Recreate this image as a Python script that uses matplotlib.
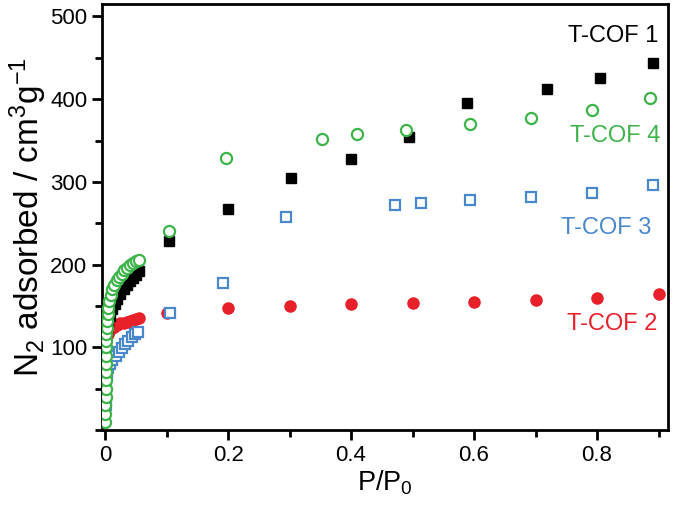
import matplotlib
matplotlib.use('Agg')
import matplotlib.pyplot as plt
from matplotlib.ticker import MultipleLocator

plt.rcParams['font.family'] = ['Liberation Sans', 'DejaVu Sans']
plt.rcParams['mathtext.default'] = 'regular'

# T-COF 1 (filled black squares)
p_cof1 = [0.003, 0.005, 0.008, 0.012, 0.016, 0.02, 0.025, 0.03, 0.035, 0.04,
          0.045, 0.05, 0.055,
          0.104, 0.2, 0.302, 0.4, 0.494, 0.589, 0.719, 0.805, 0.891]
v_cof1 = [120, 130, 138, 146, 152, 158, 164, 170, 175, 180,
          184, 188, 192,
          228, 267, 305, 328, 354, 395, 412, 426, 444]

# T-COF 4 (open green circles)
p_cof4 = [0.0005, 0.0005, 0.0006, 0.0007, 0.0008, 0.0009, 0.001, 0.0012,
          0.0014, 0.0016, 0.0018, 0.002, 0.0025, 0.003, 0.004, 0.005, 0.007,
          0.009, 0.012, 0.015, 0.019, 0.023, 0.027, 0.031, 0.035, 0.04,
          0.045, 0.05, 0.055,
          0.104, 0.197, 0.353, 0.41, 0.49, 0.594, 0.693, 0.792, 0.886]
v_cof4 = [10, 20, 30, 40, 50, 60, 70, 80,
          90, 100, 108, 116, 124, 132, 140, 148, 156,
          163, 170, 176, 181, 185, 189, 193, 196, 199,
          202, 204, 206,
          241, 329, 352, 358, 363, 370, 377, 387, 402]

# T-COF 3 (open blue squares)
p_cof3 = [0.001, 0.0015, 0.002, 0.003, 0.005, 0.008, 0.012, 0.017, 0.022,
          0.027, 0.032, 0.038, 0.044, 0.049, 0.054,
          0.105, 0.192, 0.294, 0.472, 0.514, 0.594, 0.693, 0.792, 0.891]
v_cof3 = [30, 45, 58, 68, 75, 80, 85, 90, 95,
          99, 104, 108, 113, 116, 119,
          142, 178, 258, 272, 275, 278, 282, 287, 296]

# T-COF 2 (filled red circles)
p_cof2 = [0.001, 0.002, 0.004, 0.007, 0.011, 0.015, 0.02, 0.025, 0.03,
          0.035, 0.04, 0.045, 0.05, 0.055,
          0.1, 0.2, 0.3, 0.4, 0.5, 0.6, 0.7, 0.8, 0.9]
v_cof2 = [95, 108, 116, 120, 123, 125, 127, 129, 130,
          131, 132, 133, 134, 135,
          141, 147, 150, 152, 154, 155, 157, 160, 165]

c_black = '#000000'
c_green = '#3db34a'
c_blue = '#4a88cc'
c_red = '#e8202a'

fig = plt.figure(figsize=(6.8, 5.09), dpi=100)
ax = fig.add_axes([0.150, 0.155, 0.832, 0.837])

ax.plot(p_cof2, v_cof2, 'o', color=c_red, ms=8, mec=c_red, zorder=2)
ax.plot(p_cof3, v_cof3, 's', color=c_blue, ms=7, mfc='white', mew=1.6, zorder=3)
ax.plot(p_cof1, v_cof1, 's', color=c_black, ms=7, zorder=4)
ax.plot(p_cof4, v_cof4, 'o', color=c_green, ms=8, mfc='white', mew=1.6, zorder=5)

ax.text(0.827, 477, 'T-COF 1', color=c_black, fontsize=17, ha='center', va='center')
ax.text(0.829, 356, 'T-COF 4', color=c_green, fontsize=17, ha='center', va='center')
ax.text(0.815, 244, 'T-COF 3', color=c_blue, fontsize=17, ha='center', va='center')
ax.text(0.825, 128, 'T-COF 2', color=c_red, fontsize=17, ha='center', va='center')

ax.set_xlim(-0.005, 0.915)
ax.set_ylim(0, 515)
ax.xaxis.set_minor_locator(MultipleLocator(0.1))
ax.yaxis.set_minor_locator(MultipleLocator(50))
ax.set_xticks([0, 0.2, 0.4, 0.6, 0.8])
ax.set_xticklabels(['0', '0.2', '0.4', '0.6', '0.8'])
ax.set_yticks([100, 200, 300, 400, 500])

ax.tick_params(which='major', direction='out', length=7, width=2, labelsize=16)
ax.tick_params(which='minor', direction='out', length=5, width=2)
ax.tick_params(top=False, right=False, which='both')
for s in ax.spines.values():
    s.set_linewidth(2)

ax.set_xlabel('P/P$_0$', fontsize=19.5, labelpad=2)
ax.set_ylabel('N$_2$ adsorbed / cm$^3$g$^{-1}$', fontsize=24, labelpad=1)

plt.savefig('out.png', dpi=100)
